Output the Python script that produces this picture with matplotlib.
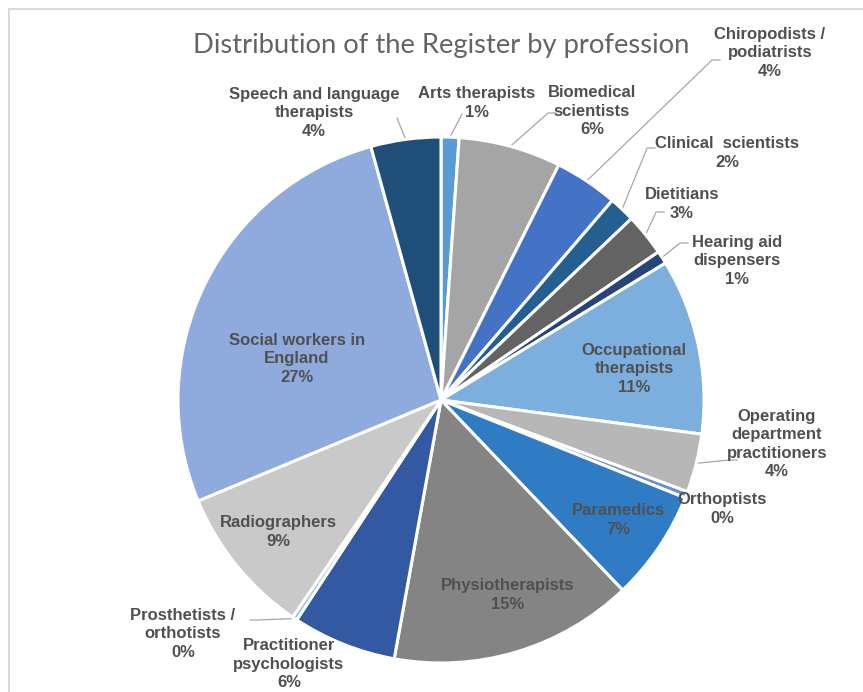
import numpy as np
import matplotlib
matplotlib.use("Agg")
import matplotlib.pyplot as plt
from matplotlib.patches import Rectangle

# ---- data ----
professions = [
    "Arts therapists", "Biomedical\nscientists", "Chiropodists /\npodiatrists",
    "Clinical  scientists", "Dietitians", "Hearing aid\ndispensers",
    "Occupational\ntherapists", "Operating\ndepartment\npractitioners",
    "Orthoptists", "Paramedics", "Physiotherapists", "Practitioner\npsychologists",
    "Prosthetists /\northotists", "Radiographers", "Social workers in\nEngland",
    "Speech and language\ntherapists",
]
shares = [1.1, 6.3, 3.9, 1.6, 2.6, 0.8, 10.8, 3.6, 0.4, 6.8, 15.0, 6.4, 0.3, 9.2, 27.0, 4.3]
colors = ["#5B9BD5", "#A5A5A5", "#4472C4", "#255E91", "#636363", "#264478",
          "#7CAFDD", "#B7B7B7", "#698ED0", "#2F7BC4", "#848484", "#3359A3",
          "#8CC0E8", "#C9C9C9", "#8FAADC", "#1F4E79"]

W, H = 863, 692
CX, CY, R = 441, 400, 263

# label placement (pixel centres) and optional leader anchors (pixel)
label_pos = [(477, 103), (592, 111), (770, 53), (727, 153), (682, 204), (737, 261),
             (634, 369), (777, 444), (722, 509), (618, 520), (508, 595), (289, 664),
             (183, 634), (278, 532), (297, 359), (314, 113)]
leader_anchor = [(462, 114), (556, 113), (720, 60), (655, 148), (664, 212), (688, 243),
                 None, (737, 460), None, None, None, None,
                 (250, 620), None, None, (397, 118)]

def p2d(px, py):
    return (px - CX) / R, (CY - py) / R

fig = plt.figure(figsize=(W / 100, H / 100), dpi=100)
fig.patch.set_facecolor("white")
fig.add_artist(Rectangle((9 / W, -0.1), 1.2, (H - 9) / H + 0.1, transform=fig.transFigure,
                         fill=False, edgecolor="#D9D9D9", linewidth=1.5))

ax = fig.add_axes([(CX - R) / W, (H - CY - R) / H, 2 * R / W, 2 * R / H])
wedges, _ = ax.pie(shares, colors=colors, startangle=90, counterclock=False,
                   radius=1.0, wedgeprops=dict(edgecolor="white", linewidth=2.2))
ax.set_xlim(-1, 1)
ax.set_ylim(-1, 1)
ax.set_aspect("equal")
ax.axis("off")

tot = sum(shares)
for i, (name, v) in enumerate(zip(professions, shares)):
    pct = int(round(v / tot * 100))
    x, y = p2d(*label_pos[i])
    ax.text(x, y, f"{name}\n{pct}%", ha="center", va="center", fontsize=12.0,
            fontweight="bold", color="#505050", family="Liberation Sans",
            linespacing=1.3, clip_on=False)
    a = leader_anchor[i]
    if a is not None:
        w = wedges[i]
        mid = np.deg2rad((w.theta1 + w.theta2) / 2)
        ex, ey = np.cos(mid) * 1.0, np.sin(mid) * 1.0
        sx, sy = p2d(*a)
        kx = sx + (-0.03 if sx > ex else 0.03) * (1 if abs(sx - ex) > 0.05 else 0)
        ax.plot([sx, kx, ex], [sy, sy, ey], color="#A6A6A6", lw=0.9, clip_on=False,
                zorder=0)

fig.text(441 / W, 1 - 46 / H, "Distribution of the Register by profession",
         ha="center", va="center", fontsize=19.7, color="#646464",
         family="Lato", fontweight="normal")

fig.savefig("out.png", dpi=100, facecolor="white")
